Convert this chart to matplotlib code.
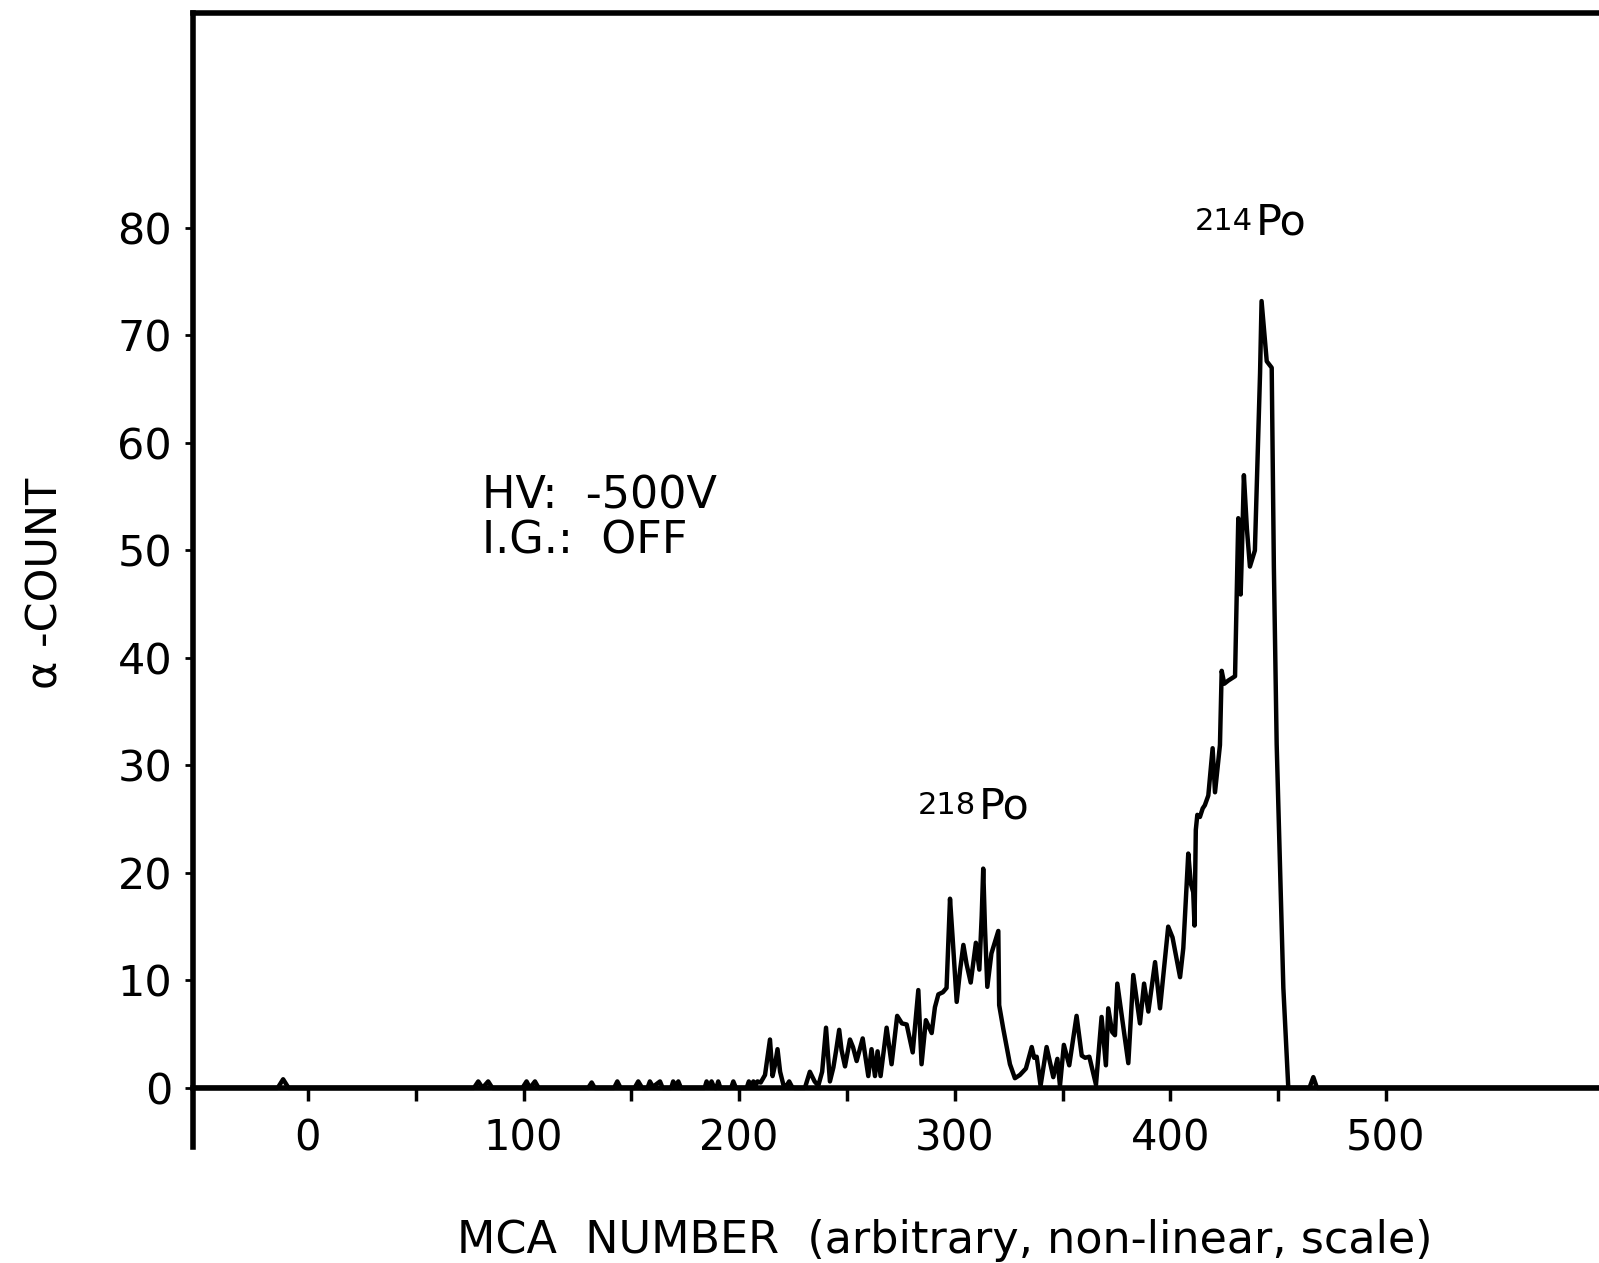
import numpy as np
import matplotlib
matplotlib.use('Agg')
import matplotlib.pyplot as plt
from matplotlib.ticker import FixedLocator, NullFormatter

# MCA channel vs alpha count
mca = [-53, -14, -11.5, -9, 77, 79, 81, 83.6, 85.5, 99.5, 101.4, 103, 105.3, 107,
       130, 131.6, 133, 142, 143.5, 145, 151.5, 153.2, 155, 157.5, 158.6, 160, 163.3,
       164.5, 168.5, 169.4, 170.5, 171.8, 173, 184, 184.9, 186, 187.2, 188.5, 189.5,
       190.3, 191.3, 196.3, 197.3, 198.5, 203.5, 204.5, 205.5, 206.6, 207.6, 208.5,
       210, 212, 214.3, 215.5, 216.5, 217.8, 219, 220.5, 222, 223.2, 224.5, 225.5,
       230.5, 232.8, 235, 236.7, 238.5, 240.3, 242.1, 243.7, 245, 246.4, 247.5, 249.1,
       251.4, 252.8, 254.5, 257.3, 259.9, 261.4, 263, 264.2, 265.6, 268.4, 270.7,
       273.3, 275.5, 277.7, 280.5, 283.1, 284.6, 286.6, 289.3, 290.8, 292.4, 294.5,
       296.2, 297.8, 299, 300.9, 302.5, 304, 305.5, 307.4, 309.8, 311.4, 312.5, 313.2,
       314, 315.1, 317, 320.2, 320.6, 322.5, 325.6, 327.9, 330.2, 333, 335.7, 336.8,
       338, 339.8, 342.6, 345.7, 347.6, 348.8, 350.6, 353.1, 356.5, 358.9, 360.5,
       362.4, 365.5, 368.1, 370.1, 371.2, 373, 374.3, 375.4, 380.5, 382.8, 385.9,
       387.8, 389.8, 392.9, 395.2, 399, 401, 404.5, 406, 408.3, 409.5, 410.6, 411.2,
       411.8, 412.5, 413.7, 415, 416, 417.6, 419.6, 420.7, 423, 423.8, 425, 426.9,
       430, 431.5, 432.6, 433.2, 434.1, 435.5, 436.9, 439.2, 441.6, 442.3, 443.9,
       444.7, 447, 448, 449.3, 452.4, 454.7, 464.5, 466.3, 468, 599]
counts = [0, 0, 0.8, 0, 0, 0.6, 0, 0.6, 0, 0, 0.6, 0, 0.6, 0,
          0, 0.5, 0, 0, 0.6, 0, 0, 0.6, 0, 0, 0.6, 0.1, 0.6,
          0, 0, 0.6, 0.2, 0.6, 0, 0, 0.6, 0.1, 0.6, 0, 0,
          0.6, 0, 0, 0.6, 0, 0, 0.6, 0.2, 0.6, 0.2, 0.6,
          0.5, 1.2, 4.5, 1.1, 2.0, 3.6, 1.5, 0.3, 0.2, 0.6, 0.1, 0,
          0, 1.5, 0.6, 0.2, 1.5, 5.6, 0.6, 1.9, 3.5, 5.4, 3.5, 2.0,
          4.5, 3.8, 2.5, 4.6, 1.1, 3.6, 1.1, 3.4, 1.1, 5.6, 2.2,
          6.7, 6.0, 5.9, 3.3, 9.1, 2.2, 6.3, 5.1, 7.5, 8.7, 8.9,
          9.3, 17.6, 14, 8.0, 11, 13.3, 11.5, 9.8, 13.5, 11, 16, 20.4,
          15, 9.4, 12.5, 14.6, 7.7, 5.5, 2.2, 0.9, 1.2, 1.8, 3.8, 2.8,
          2.9, 0.2, 3.8, 1.0, 2.7, 0.2, 4.0, 2.1, 6.7, 3.0, 2.8,
          2.9, 0.3, 6.6, 2.1, 7.4, 5.2, 4.9, 9.7, 2.3, 10.5, 6.0,
          9.7, 7.1, 11.7, 7.4, 15.0, 14, 10.3, 13, 21.8, 19, 18.2, 15.1,
          24, 25.4, 25.2, 26, 26.3, 27.2, 31.6, 27.5, 31.9, 38.8, 37.6, 37.9,
          38.3, 53, 45.9, 50, 57, 52, 48.5, 50, 66.5, 73.2, 69.5,
          67.6, 67, 48.5, 32, 9.3, 0, 0, 1.0, 0, 0]

y_ticks = [0, 10, 20, 30, 40, 50, 60, 70, 80]
x_major = [0, 100, 200, 300, 400, 500]
x_minor = [50, 150, 250, 350, 450]

W, H = 1599, 1263
fig = plt.figure(figsize=(W / 100, H / 100), dpi=100)
ax = fig.add_axes([193 / W, 1 - 1147 / H, 1 - 193 / W, (1147 - 13) / H])

ax.plot(mca, counts, color='black', lw=3.2, solid_joinstyle='round', solid_capstyle='round')

ax.set_xlim(-53.3, 598.8)
ax.set_ylim(-5.5, 100)

ax.spines['bottom'].set_position(('data', 0))
ax.spines['right'].set_visible(False)
for s in ['left', 'top', 'bottom']:
    ax.spines[s].set_linewidth(4)

ax.xaxis.set_major_locator(FixedLocator(x_major))
ax.xaxis.set_minor_locator(FixedLocator(x_minor))
ax.xaxis.set_minor_formatter(NullFormatter())
ax.set_yticks(y_ticks)
ax.set_yticklabels([str(t) for t in y_ticks])

ax.tick_params(axis='x', which='both', direction='out', length=9, width=2.5,
               labelsize=30, pad=12)
ax.tick_params(axis='y', direction='out', length=6, width=2, labelsize=31, pad=9)

# annotations
ax.text(80.6, 53.9, 'HV:  -500V', fontsize=32, ha='left', va='baseline')
ax.text(80.6, 49.7, 'I.G.:  OFF', fontsize=32, ha='left', va='baseline')

ax.text(283, 25.5, '218', fontsize=22, ha='left', va='baseline')
ax.annotate('Po', xy=(283, 25.5), xytext=(44, -3.5), textcoords='offset points',
            fontsize=31, ha='left', va='baseline')
ax.text(411.4, 79.8, '214', fontsize=22, ha='left', va='baseline')
ax.annotate('Po', xy=(411.4, 79.8), xytext=(44, -3.5), textcoords='offset points',
            fontsize=31, ha='left', va='baseline')

fig.text(46 / W, 1 - 583 / H, 'α -COUNT', rotation=90, fontsize=31,
         ha='center', va='center')
fig.text(945 / W, 1 - 1240 / H, 'MCA  NUMBER  (arbitrary, non-linear, scale)',
         fontsize=32, ha='center', va='center')

fig.savefig('out.png', dpi=100)
